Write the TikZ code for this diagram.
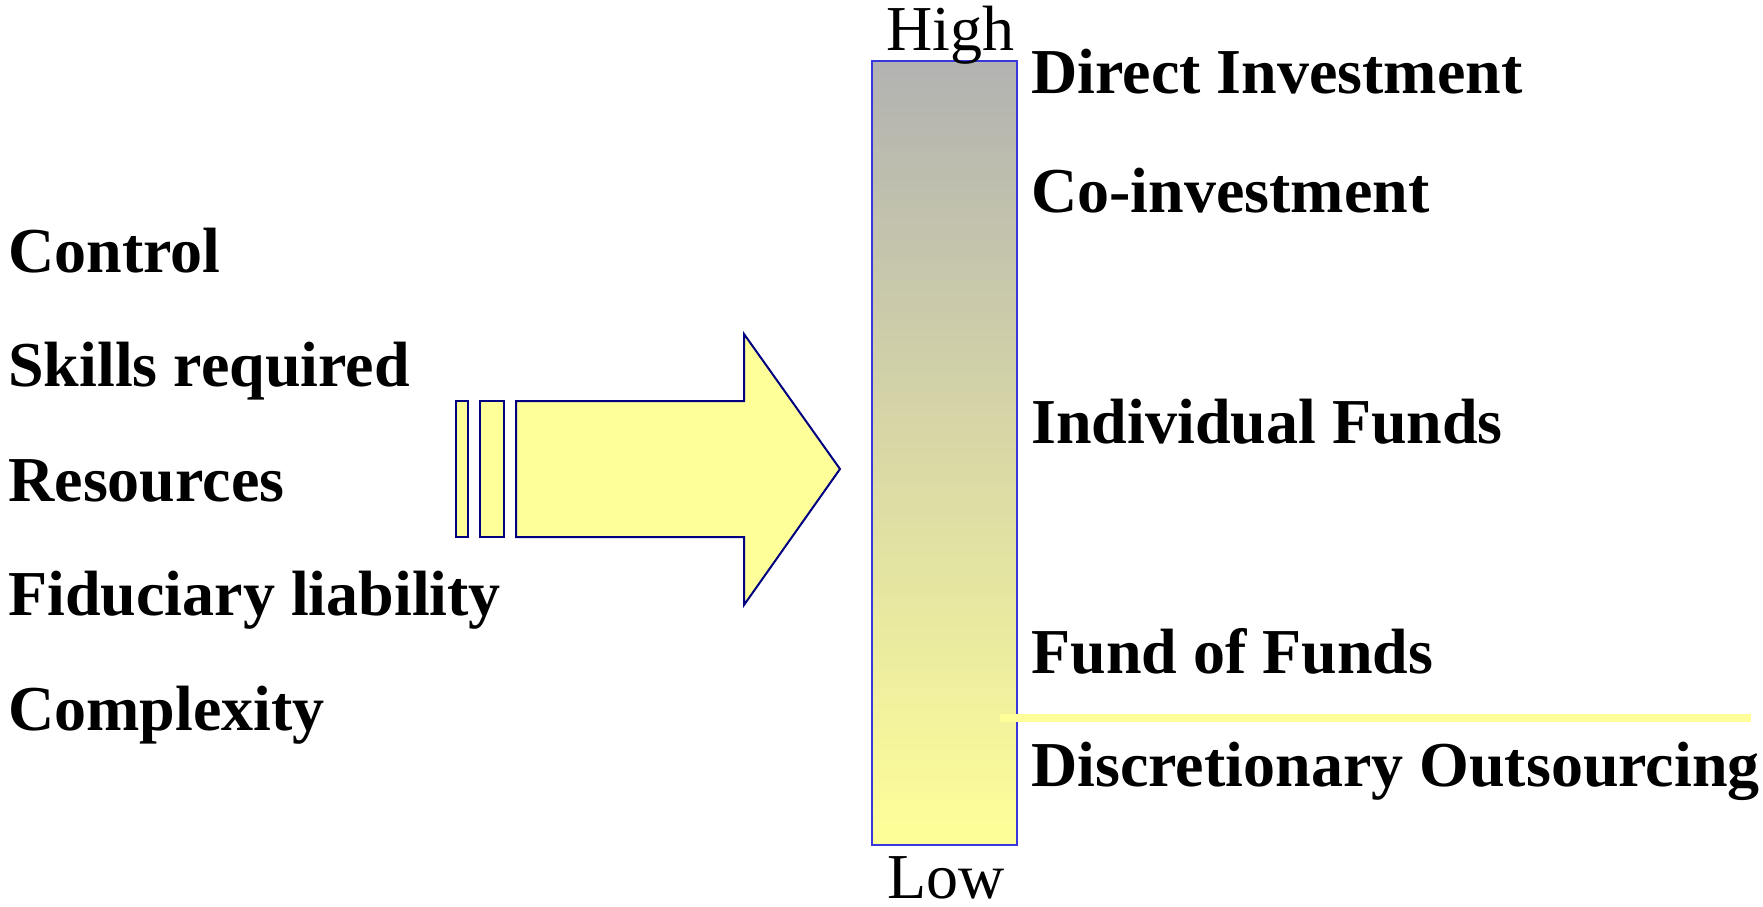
\documentclass[tikz,border=0pt]{standalone}
\usepackage{fontspec}
\setmainfont{Liberation Serif}
\usetikzlibrary{positioning}
\definecolor{pale}{HTML}{FFFF99}
\definecolor{barblue}{HTML}{3838DD}
\definecolor{navyline}{HTML}{000080}
\definecolor{bargray}{HTML}{B2B2B2}
\tikzset{
  item/.style={anchor=base west, inner sep=0pt, font=\bfseries\fontsize{32}{38}\selectfont},
  ends/.style={anchor=base, inner sep=0pt, font=\fontsize{32}{38}\selectfont},
  block/.style={draw=navyline, line width=1pt, fill=pale, line join=miter},
  divider/.style={draw=pale, line width=3.75pt},
}

\begin{document}
\begin{tikzpicture}[x=0.5pt,y=-0.5pt]
\useasboundingbox (0,0) rectangle (1763,906);
% factors on the left
\node[item] (ctrl) at (8,272) {Control};
\node[item] (skill) at (8,386) {Skills required};
\node[item] (res) at (8,501) {Resources};
\node[item] (fid) at (8,615) {Fiduciary liability};
\node[item] (cplx) at (8,730) {Complexity};
% broken block arrow
\draw[block] (456,401) rectangle (468,537);
\draw[block] (480,401) rectangle (504,537);
\draw[block] (516,401) -- (744,401) -- (744,334) -- (840,469) -- (744,605) -- (744,537) -- (516,537) -- cycle;
% graded bar, high at the top
\shade[top color=bargray, bottom color=pale] (872,61) rectangle (1017,845);
\draw[barblue, line width=1pt] (872,61) rectangle (1017,845);
\node[ends] (high) at (950,50) {High};
\node[ends] (low) at (946,898) {Low};
% vehicles on the right
\node[item] (direct) at (1031,93) {Direct Investment};
\node[item] (coinv) at (1031,212) {Co-investment};
\node[item] (indiv) at (1031,443) {Individual Funds};
\node[item] (fof) at (1031,673) {Fund of Funds};
\node[item] (disc) at (1031,786) {Discretionary Outsourcing};
\draw[divider] (1000,718) -- (1751,718);
\end{tikzpicture}
\end{document}
